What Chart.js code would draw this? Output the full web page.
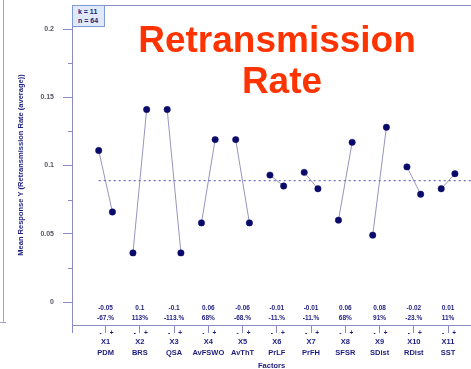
<!DOCTYPE html>
<html>
<head>
<meta charset="utf-8">
<script src="https://cdn.jsdelivr.net/npm/chart.js@4.4.1/dist/chart.umd.min.js"></script>
<style>
  html, body { margin: 0; padding: 0; background: #fff; }
  #wrap { position: relative; width: 471px; height: 369px; overflow: hidden; font-family: "Liberation Sans", Arial, sans-serif; }
  #chart { position: absolute; left: 0; top: 0; }
  .title { position: absolute; width: 320px; text-align: center; font-weight: bold; font-size: 37px; line-height: 41px; color: #ff3300; white-space: nowrap; }
  #kn { position: absolute; left: 72px; top: 5px; width: 33px; height: 22px; box-sizing: border-box; background: #dfe9f8; border: 1px solid #7f9bd6; font-weight: bold; font-size: 7px; line-height: 9px; color: #1c1c80; padding: 1px 0 0 5px; }
  #frameV { position: absolute; left: 3px; top: 0; width: 1px; height: 322px; background: #a3a3d3; }
  #frameH { position: absolute; left: 0; top: 322px; width: 6px; height: 1px; background: #a3a3d3; }
</style>
</head>
<body>
<div id="wrap">
  <canvas id="chart" width="471" height="369"></canvas>
  <div id="frameV"></div>
  <div id="frameH"></div>
  <div id="kn">k = 11<br>n = 64</div>
  <div class="title" style="left:117px; top:19px;">Retransmission</div>
  <div class="title" style="left:122px; top:60px;">Rate</div>
</div>
<script>
// factors and their level means
const factors = ['X1', 'X2', 'X3', 'X4', 'X5', 'X6', 'X7', 'X8', 'X9', 'X10', 'X11'];
const factorNames = ['PDM', 'BRS', 'QSA', 'AvFSWO', 'AvThT', 'PrLF', 'PrFH', 'SFSR', 'SDist', 'RDist', 'SST'];
const lowMeans  = [0.111, 0.036, 0.141, 0.058, 0.119, 0.093, 0.095, 0.060, 0.049, 0.099, 0.083];
const highMeans = [0.066, 0.141, 0.036, 0.119, 0.058, 0.085, 0.083, 0.117, 0.128, 0.079, 0.094];
const effects = ['-0.05', '0.1', '-0.1', '0.06', '-0.06', '-0.01', '-0.01', '0.06', '0.08', '-0.02', '0.01'];
const effectPcts = ['-67.%', '113%', '-113.%', '68%', '-68.%', '-11.%', '-11.%', '68%', '91%', '-23.%', '11%'];
const grandMean = 0.0889;

const yTicks = [0, 0.025, 0.05, 0.075, 0.1, 0.125, 0.15, 0.175, 0.2];
const yTickLabels = ['0', '', '0.05', '', '0.1', '', '0.15', '', '0.2'];

const axisColor = '#8a8ac6';
const navy = '#1c1c80';
const font = '"Liberation Sans", Arial, sans-serif';

// one line segment per factor (low -> high)
const datasets = factors.map((f, i) => ({
  label: f,
  data: [{ x: i + 1 - 0.2, y: lowMeans[i] }, { x: i + 1 + 0.2, y: highMeans[i] }],
  borderColor: '#9595bd',
  borderWidth: 1,
  pointRadius: 3.2,
  pointBackgroundColor: '#0a0a6a',
  pointBorderColor: '#0a0a6a',
  pointBorderWidth: 0.5
}));

datasets.unshift({
  label: 'mean',
  data: [{ x: 0.8, y: grandMean }, { x: 11.7, y: grandMean }],
  borderColor: '#6f6fc0',
  borderWidth: 1.3,
  borderDash: [2, 3],
  pointRadius: 0
});

// extra drawing: top frame, minor y ticks, effect labels, -/+ marks
const extras = {
  id: 'extras',
  afterDraw(chart) {
    const c = chart.ctx;
    const a = chart.chartArea;
    const xs = chart.scales.x, ys = chart.scales.y;
    c.save();
    c.strokeStyle = axisColor;
    c.lineWidth = 1;
    c.beginPath();
    c.moveTo(a.left, a.top + 0.5);
    c.lineTo(a.right, a.top + 0.5);
    c.moveTo(a.left + 0.5, a.bottom);
    c.lineTo(a.left + 0.5, a.bottom + 8);
    yTicks.forEach((v, i) => {
      if (yTickLabels[i] !== '') return;
      const py = Math.round(ys.getPixelForValue(v)) + 0.5;
      c.moveTo(a.left - 4, py);
      c.lineTo(a.left, py);
    });
    c.stroke();

    c.fillStyle = navy;
    c.textAlign = 'center';
    c.textBaseline = 'middle';
    c.font = 'bold 6.5px ' + font;
    factors.forEach((f, i) => {
      const px = xs.getPixelForValue(i + 1);
      c.fillText(effects[i], px, 308);
      c.fillText(effectPcts[i], px, 318);
      c.fillText('-', px - 5, 333);
      c.fillText('+', px + 6, 333);
    });
    c.restore();
  }
};

new Chart(document.getElementById('chart'), {
  type: 'line',
  data: { datasets },
  plugins: [extras],
  options: {
    responsive: false,
    animation: false,
    layout: { autoPadding: false, padding: { top: 5, right: 0, left: 0, bottom: 0 } },
    plugins: { legend: { display: false }, tooltip: { enabled: false } },
    scales: {
      x: {
        type: 'linear',
        min: 0.02,
        max: 11.67,
        afterBuildTicks: s => { s.ticks = factors.map((f, i) => ({ value: i + 1 })); },
        afterFit: s => { s.height = 44; s.paddingLeft = 0; s.paddingRight = 0; },
        border: { color: axisColor, width: 1 },
        grid: { drawOnChartArea: false, tickLength: 8, color: axisColor },
        ticks: {
          maxRotation: 0,
          autoSkip: false,
          padding: 3,
          color: navy,
          font: { family: font, size: 7.5, weight: 'bold', lineHeight: 1.5 },
          callback: (v, i) => [factors[i], factorNames[i]]
        },
        title: {
          display: true,
          text: 'Factors',
          color: navy,
          font: { family: font, size: 7.5, weight: 'bold' },
          padding: { top: 0, bottom: -1 }
        }
      },
      y: {
        min: -0.0168,
        max: 0.2176,
        afterBuildTicks: s => { s.ticks = yTicks.map(v => ({ value: v })); },
        afterFit: s => { s.width = 72; s.paddingTop = 0; s.paddingBottom = 0; },
        border: { color: axisColor, width: 1 },
        grid: {
          drawOnChartArea: false,
          tickLength: 9,
          color: ctx => (ctx.tick && yTickLabels[yTicks.indexOf(ctx.tick.value)] === '') ? 'rgba(0,0,0,0)' : axisColor
        },
        ticks: {
          padding: 9,
          color: '#555566',
          font: { family: font, size: 7, weight: 'bold' },
          callback: (v, i) => yTickLabels[i]
        },
        title: {
          display: true,
          text: 'Mean Response Y (Retransmission Rate (average))',
          color: navy,
          font: { family: font, size: 7.5, weight: 'bold' },
          padding: { top: 16, bottom: 0 }
        }
      }
    }
  }
});
</script>
</body>
</html>
